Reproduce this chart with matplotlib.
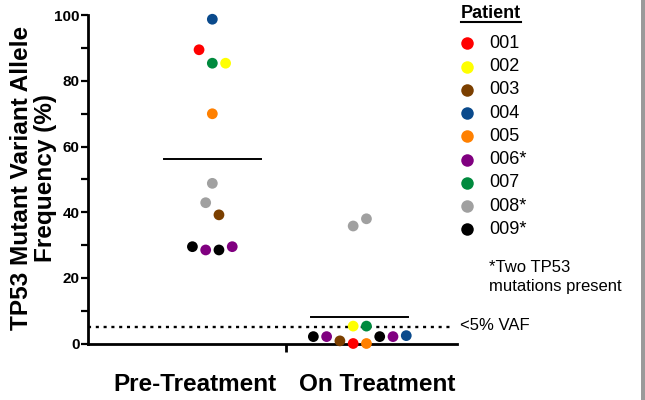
import numpy as np
import matplotlib
matplotlib.use('Agg')
import matplotlib.pyplot as plt
from matplotlib.lines import Line2D
from matplotlib.patches import Rectangle
from matplotlib.transforms import ScaledTranslation

plt.rcParams['font.family'] = ['Liberation Sans', 'DejaVu Sans']

# 数据
patients = ['001', '002', '003', '004', '005', '006*', '007', '008*', '009*']
patient_colors = ['#ff0000', '#ffff00', '#7b3f00', '#0a4a8c', '#ff8000',
                  '#800080', '#008a3e', '#a0a0a0', '#000000']
groups = ['Pre-Treatment', 'On Treatment']

pre_patient = ['004', '001', '007', '002', '005', '008*', '008*', '003', '009*', '006*', '009*', '006*']
pre_vaf = [98.8, 89.5, 85.4, 85.4, 70.0, 48.8, 42.9, 39.2, 29.5, 28.5, 28.5, 29.5]
pre_slot = [0, -2, 0, 2, 0, 0, -1, 1, -3, -1, 1, 3]

on_patient = ['009*', '006*', '003', '001', '005', '009*', '006*', '004', '002', '007', '008*', '008*']
on_vaf = [2.1, 2.1, 0.8, 0.0, 0.0, 2.1, 2.1, 2.4, 5.3, 5.3, 35.8, 38.0]
on_slot = [-7, -5, -3, -1, 1, 3, 5, 7, -1, 1, -1, 1]

vaf_cutoff = 5

color_of = dict(zip(patients, patient_colors))

fig = plt.figure(figsize=(6.45, 4.0), dpi=100)
ax = fig.add_axes([88 / 645, 1 - 343.5 / 400, 369 / 645, 328.2 / 400])

step = 0.045
for gi, (pat, vaf, slot) in enumerate([(pre_patient, pre_vaf, pre_slot),
                                       (on_patient, on_vaf, on_slot)]):
    xs = gi + np.array(slot) * step
    ax.scatter(xs, vaf, s=60, c=[color_of[p] for p in pat], linewidths=0,
               zorder=4, clip_on=False)
    m = np.mean(vaf)
    ax.plot([gi - 0.33, gi + 0.33], [m, m], color='black', lw=1.4, zorder=3)

# 5% VAF 虚线
ax.plot([-0.84, 1.62], [vaf_cutoff, vaf_cutoff], color='black', lw=1.7,
        linestyle=(0, (1.3, 2.0)), zorder=2, clip_on=False)

ax.set_xlim(-0.843, 1.659)
ax.set_ylim(0, 100)
for s in ['top', 'right']:
    ax.spines[s].set_visible(False)
for s in ['left', 'bottom']:
    ax.spines[s].set_linewidth(2)

ax.set_yticks(np.arange(0, 101, 20))
ax.set_yticks(np.arange(10, 100, 20), minor=True)
ax.tick_params(axis='y', which='both', direction='out', length=5, width=1.6,
               labelsize=11, pad=1)
for lab in ax.get_yticklabels():
    lab.set_fontweight('bold')

ax.set_xticks([0, 1])
ax.set_xticklabels(groups, fontsize=17.5, fontweight='bold')
ax.set_xticks([0.5], minor=True)
ax.tick_params(axis='x', which='major', length=0, pad=21)
ax.tick_params(axis='x', which='minor', direction='out', length=6, width=2)
for lab, dx in zip(ax.get_xticklabels(), [-17, 17]):
    lab.set_transform(lab.get_transform() + ScaledTranslation(dx / 100, 0, fig.dpi_scale_trans))

ax.set_ylabel('TP53 Mutant Variant Allele\nFrequency (%)', fontsize=17.6,
              fontweight='bold', linespacing=1.05)
ax.yaxis.set_label_coords(-0.085, 0.505)

# 图例
fig.text(461 / 645, 1 - 13 / 400, 'Patient', fontsize=13, fontweight='bold',
         va='center', ha='left')
fig.add_artist(Line2D([461 / 645, 521 / 645], [1 - 22 / 400, 1 - 22 / 400],
                      color='black', lw=1.5))
for i, (p, c) in enumerate(zip(patients, patient_colors)):
    y = 1 - (43.3 + i * 23.25) / 400
    fig.add_artist(Line2D([467 / 645], [y], marker='o', markersize=9,
                          markerfacecolor=c, markeredgewidth=0, linestyle='none'))
    fig.text(489 / 645, y, p, fontsize=13, va='center', ha='left')

fig.text(489 / 645, 1 - 277 / 400, '*Two TP53\nmutations present', fontsize=12,
         va='center', ha='left', linespacing=1.4)
fig.text(460 / 645, 1 - 326 / 400, '<5% VAF', fontsize=12, va='center', ha='left')

fig.add_artist(Rectangle((641 / 645, 0), 4 / 645, 1, transform=fig.transFigure,
                         color='#9a9a9a', lw=0))

fig.savefig('out.png', dpi=100)
